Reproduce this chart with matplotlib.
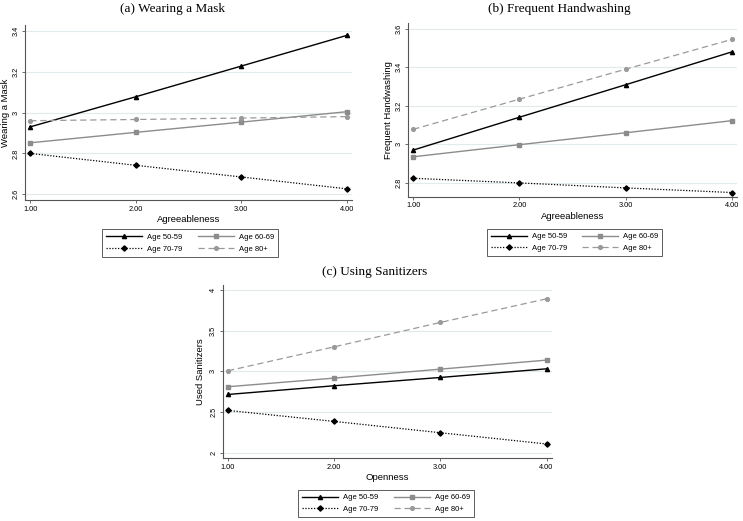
import matplotlib
matplotlib.use("Agg")
from matplotlib import pyplot as plt

x = [1, 2, 3, 4]
xticklabels = ["1.00", "2.00", "3.00", "4.00"]
groups = ["Age 50-59", "Age 60-69", "Age 70-79", "Age 80+"]

# (a) Wearing a Mask
mask_5059 = [2.93, 3.077, 3.227, 3.377]
mask_6069 = [2.852, 2.903, 2.953, 3.004]
mask_7079 = [2.80, 2.742, 2.685, 2.627]
mask_80 = [2.96, 2.966, 2.973, 2.98]

# (b) Frequent Handwashing
hand_5059 = [2.969, 3.14, 3.309, 3.48]
hand_6069 = [2.934, 2.997, 3.059, 3.122]
hand_7079 = [2.822, 2.798, 2.772, 2.748]
hand_80 = [3.077, 3.234, 3.39, 3.545]

# (c) Using Sanitizers
san_5059 = [2.715, 2.822, 2.924, 3.03]
san_6069 = [2.81, 2.916, 3.026, 3.137]
san_7079 = [2.519, 2.384, 2.245, 2.107]
san_80 = [3.006, 3.30, 3.60, 3.89]

styles = [
    dict(color="black", ls="-", marker="^", ms=3.0, lw=1.0),
    dict(color="#8c8c8c", ls="-", marker="s", ms=2.6, lw=1.0),
    dict(color="black", ls=(0, (1, 1.3)), marker="D", ms=2.7, lw=0.9),
    dict(color="#9a9a9a", ls=(0, (5, 3)), marker="o", ms=2.7, lw=0.9),
]

plt.rcParams["font.family"] = ["Liberation Sans", "DejaVu Sans"]


def panel(fig, rect, series, ylim, yticks, yticklabels, ylabel, xlabel,
          title, title_xy, leg_center, ylab_x):
    ax = fig.add_axes(rect)
    for vals, st, name in zip(series, styles, groups):
        ax.plot(x, vals, label=name, **st)
    ax.set_xlim(0.95, 4.05)
    ax.set_ylim(*ylim)
    ax.set_xticks(x)
    ax.set_xticklabels(xticklabels, fontsize=5.3)
    ax.set_yticks(yticks)
    ax.set_yticklabels(yticklabels, fontsize=5.3, rotation=90, va="center")
    ax.grid(axis="y", color="#e3eaee", lw=0.8)
    ax.set_axisbelow(True)
    for s in ["top", "right"]:
        ax.spines[s].set_visible(False)
    for s in ["left", "bottom"]:
        ax.spines[s].set_color("#555555")
        ax.spines[s].set_linewidth(0.8)
    ax.tick_params(length=2.5, width=0.6, color="#555555", pad=1.5)
    ax.set_xlabel(xlabel, fontsize=6.8, labelpad=2)
    ax.set_ylabel(ylabel, fontsize=6.8)
    ax.yaxis.set_label_coords(ylab_x, 0.5)
    fig.text(title_xy[0] / 743, 1 - title_xy[1] / 521, title,
             family="Liberation Serif", fontsize=9.5, ha="center", va="center")
    h, l = ax.get_legend_handles_labels()
    order = [0, 2, 1, 3]
    leg = fig.legend([h[i] for i in order], [l[i] for i in order], ncol=2,
                     loc="center",
                     bbox_to_anchor=(leg_center[0] / 743, 1 - leg_center[1] / 521),
                     fontsize=5.5, frameon=True, fancybox=False,
                     handlelength=4.7, columnspacing=2.0, handletextpad=0.65,
                     borderpad=0.55, labelspacing=0.6, borderaxespad=0)
    leg.get_frame().set_edgecolor("#333333")
    leg.get_frame().set_linewidth(0.7)
    return ax


fig = plt.figure(figsize=(7.43, 5.21), dpi=100)

panel(fig, [0.0336, 0.616, 0.440, 0.336],
      [mask_5059, mask_6069, mask_7079, mask_80],
      (2.572, 3.428), [2.6, 2.8, 3.0, 3.2, 3.4], ["2.6", "2.8", "3", "3.2", "3.4"],
      "Wearing a Mask", "Agreeableness", "(a) Wearing a Mask", (172, 9),
      (190, 243), -0.046)

panel(fig, [0.549, 0.622, 0.443, 0.334],
      [hand_5059, hand_6069, hand_7079, hand_80],
      (2.725, 3.631), [2.8, 3.0, 3.2, 3.4, 3.6], ["2.8", "3", "3.2", "3.4", "3.6"],
      "Frequent Handwashing", "Agreeableness", "(b) Frequent Handwashing",
      (559, 9), (574.5, 242.5), -0.046)

panel(fig, [0.2997, 0.121, 0.443, 0.332],
      [san_5059, san_6069, san_7079, san_80],
      (1.935, 4.06), [2, 2.5, 3, 3.5, 4], ["2", "2.5", "3", "3.5", "4"],
      "Used Sanitizers", "Openness", "(c) Using Sanitizers",
      (375, 272), (386, 503.5), -0.055)

fig.savefig("out.png", dpi=100)
